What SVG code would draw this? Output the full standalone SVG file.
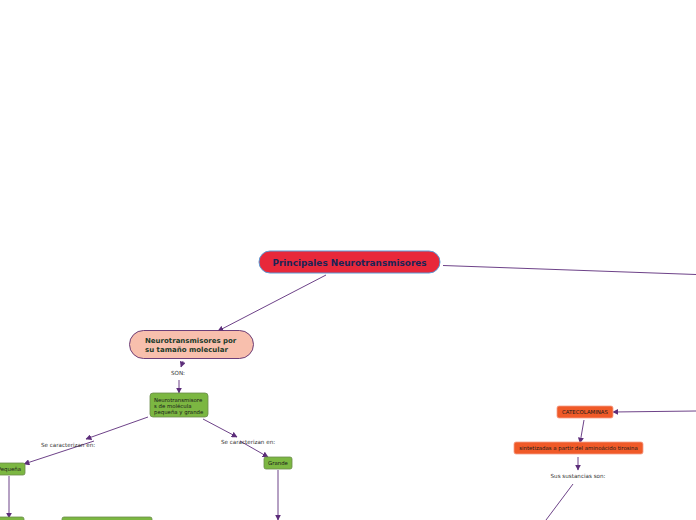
<svg xmlns="http://www.w3.org/2000/svg" width="696" height="520" viewBox="0 0 696 520">
<defs>
<marker id="ah" viewBox="0 0 10 10" refX="9" refY="5" markerWidth="6" markerHeight="6" orient="auto-start-reverse" markerUnits="userSpaceOnUse">
<path d="M0,0 L10,5 L0,10 z" fill="#5c2d7a"/>
</marker>
<style>
.c{fill:none;stroke:#5c2d7a;stroke-width:0.9}
.g{fill:#7cb742;stroke:#6a8a4a;stroke-width:0.8}
.o{fill:#f05a28;stroke:#f4a08a;stroke-width:0.8}
.t{font-family:"DejaVu Sans",sans-serif;fill:#1a1a1a;font-size:5.4px}
.l{font-family:"DejaVu Sans",sans-serif;fill:#333;font-size:5.6px}
</style>
</defs>
<rect width="696" height="520" fill="#fff"/>
<g id="connectors">
<path class="c" d="M443,265.5 L696,274.5"/>
<path class="c" d="M326,275 L218,331" marker-end="url(#ah)"/>
<path class="c" d="M183,361 L181,367" marker-end="url(#ah)"/>
<path class="c" d="M179,380 L179,393" marker-end="url(#ah)"/>
<path class="c" d="M148,417 L86,439" marker-end="url(#ah)"/>
<path class="c" d="M94,441 L24,464" marker-end="url(#ah)"/>
<path class="c" d="M203,419 L237,437" marker-end="url(#ah)"/>
<path class="c" d="M240,441 L268,457" marker-end="url(#ah)"/>
<path class="c" d="M9,476 L9,518" marker-end="url(#ah)"/>
<path class="c" d="M278,470 L278,520" marker-end="url(#ah)"/>
<path class="c" d="M696,411 L613,412" marker-end="url(#ah)"/>
<path class="c" d="M584,420 L580,443" marker-end="url(#ah)"/>
<path class="c" d="M578,457 L578,470" marker-end="url(#ah)"/>
<path class="c" d="M573,484 L546,520"/>
</g>
<g id="labels">
<text class="l" x="178" y="375" text-anchor="middle">SON:</text>
<text class="l" x="68" y="447" text-anchor="middle">Se caracterizan en:</text>
<text class="l" x="248" y="444" text-anchor="middle">Se caracterizan en:</text>
<text class="l" x="578" y="478" text-anchor="middle">Sus sustancias son:</text>
</g>
<g id="main">
<rect x="259" y="251" width="181" height="22" rx="11" fill="#e8283a" stroke="#5b9bd5" stroke-width="1"/>
<text x="349.5" y="266" text-anchor="middle" font-family="DejaVu Sans,sans-serif" font-weight="bold" font-size="8.9" fill="#1a2456">Principales Neurotransmisores</text>
</g>
<g id="tamano">
<rect x="129.5" y="330.5" width="124" height="28" rx="14" fill="#f8bfad" stroke="#5c2d6e" stroke-width="0.9"/>
<text font-family="DejaVu Sans,sans-serif" font-weight="bold" font-size="7" fill="#1c3a2a"><tspan x="145" y="343">Neurotransmisores por</tspan><tspan x="145" y="352">su tamaño molecular</tspan></text>
</g>
<g id="molecula">
<rect x="150" y="393" width="58" height="24" rx="3" class="g"/>
<text class="t"><tspan x="154" y="401.5">Neurotransmisore</tspan><tspan x="154" y="407.5">s de molécula</tspan><tspan x="154" y="413.5">pequeña y grande</tspan></text>
</g>
<g id="pequena">
<rect x="-20" y="463" width="45" height="12" rx="2" class="g"/>
<text class="t" x="21" y="471" text-anchor="end">Pequeña</text>
</g>
<g id="grande">
<rect x="264" y="457" width="28" height="12" rx="2" class="g"/>
<text class="t" x="278" y="465" text-anchor="middle">Grande</text>
</g>
<g id="bottom1">
<rect x="-20" y="517" width="44" height="12" rx="2" class="g"/>
</g>
<g id="bottom2">
<rect x="62" y="517" width="90" height="12" rx="2" class="g"/>
</g>
<g id="catecolaminas">
<rect x="557" y="406" width="56" height="12" rx="2" class="o"/>
<text class="t" x="585" y="414" text-anchor="middle">CATECOLAMINAS</text>
</g>
<g id="sintetizadas">
<rect x="514" y="442" width="129" height="12" rx="2" class="o"/>
<text class="t" x="578.5" y="450" text-anchor="middle">sintetizadas a partir del aminoácido tirosina</text>
</g>
</svg>
